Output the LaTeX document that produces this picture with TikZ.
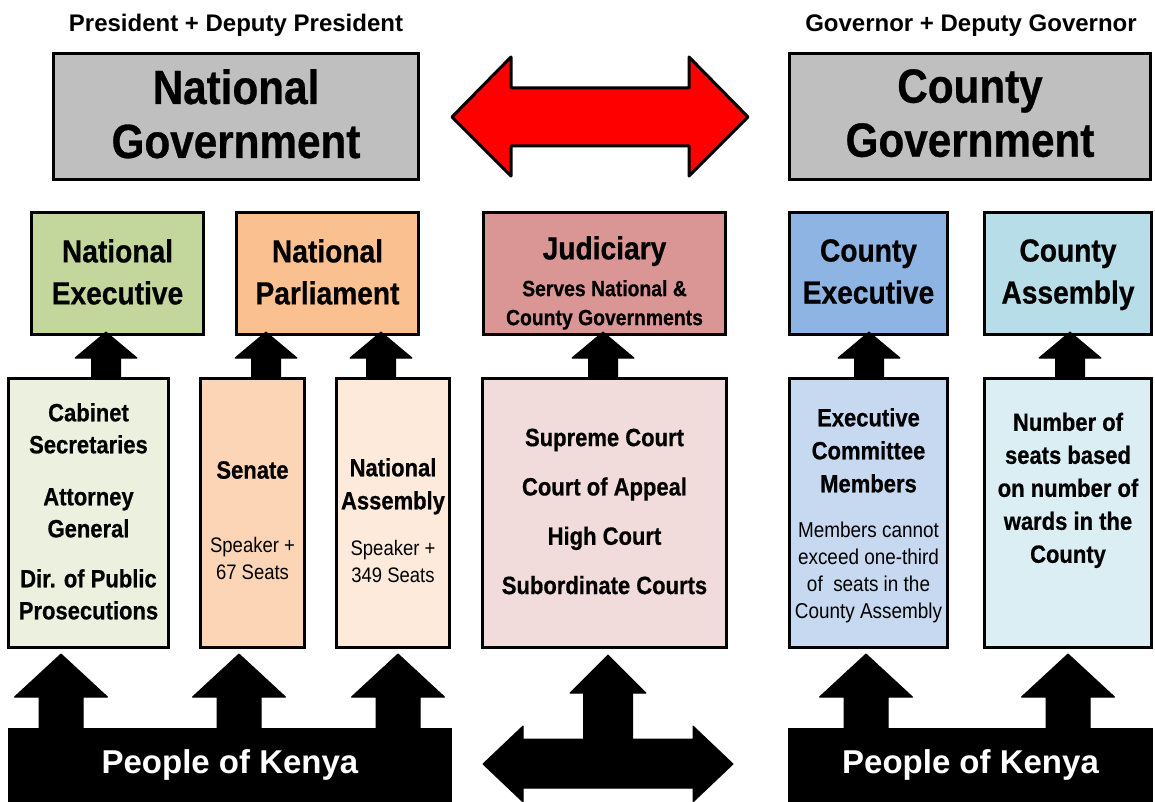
\documentclass[tikz,border=0pt]{standalone}
\usepackage{fontspec}
\setmainfont{Liberation Sans}[FakeStretch=0.88, BoldFeatures={FakeBold=0.6}]
\newfontfamily\widefont{Liberation Sans}
\definecolor{cgray}{HTML}{BFBFBF}
\definecolor{cnatexec}{HTML}{C3D69B}
\definecolor{cparl}{HTML}{FAC090}
\definecolor{cjud}{HTML}{D99694}
\definecolor{ccexec}{HTML}{8EB4E3}
\definecolor{ccass}{HTML}{B7DEE8}
\definecolor{ccab}{HTML}{EBF1DE}
\definecolor{csen}{HTML}{FBD5B5}
\definecolor{cnass}{HTML}{FDEADA}
\definecolor{ccourt}{HTML}{F2DCDB}
\definecolor{cecm}{HTML}{C6D9F1}
\definecolor{cseat}{HTML}{DBEEF3}
\newcommand\fs[2]{\fontsize{#1}{#2}\selectfont}
\newcommand\blkup[6]{\filldraw[blockarrow] (#1,#2) -- ({#1+#5},#3) -- ({#1+#6},#3) -- ({#1+#6},#4) -- ({#1-#6},#4) -- ({#1-#6},#3) -- ({#1-#5},#3) -- cycle;}
\begin{document}
\begin{tikzpicture}[x=1pt,y=-1pt,
  box/.style={draw=black, line width=3pt, inner sep=0pt},
  txt/.style={align=center, inner sep=0pt, anchor=north, text=black},
  blockarrow/.style={fill=black, draw=black, line width=1pt, line join=round},
  redarrow/.style={fill=red, draw=black, line width=3pt, line join=round},
  people/.style={fill=black, inner sep=0pt, text=white, font={\widefont\bfseries\fs{33}{40}}}]
\useasboundingbox (0,0) rectangle (1155,802);
% top labels
\node[txt, anchor=base, font={\widefont\bfseries\fs{24}{28}}] (preslbl) at (236,32) {President + Deputy President};
\node[txt, anchor=base, font={\widefont\bfseries\fs{24}{28}}] (govlbl) at (971,32) {Governor + Deputy Governor};
% government boxes
\node[box, fill=cgray, minimum width=365pt, minimum height=126pt] (natgov) at (236,116.5) {};
\node[box, fill=cgray, minimum width=361pt, minimum height=126pt] (cgov) at (970,116.5) {};
\node[txt, font={\bfseries\fs{48}{54}}] (natgov-t) at (236,69) {National\\Government};
\node[txt, font={\bfseries\fs{48}{54}}] (cgov-t) at (970,69) {County\\Government};
% red double arrow
\filldraw[redarrow] (452,117) -- (511,57) -- (511,88) -- (689,88) -- (689,57) -- (748,117) -- (689,176) -- (689,146) -- (511,146) -- (511,176) -- cycle;
% second row
\node[box, fill=cnatexec, minimum width=172pt, minimum height=122pt] (natexec) at (117.5,273.5) {};
\node[box, fill=cparl, minimum width=182pt, minimum height=122pt] (parl) at (327.5,273.5) {};
\node[box, fill=cjud, minimum width=242pt, minimum height=122pt] (jud) at (604.5,273.5) {};
\node[box, fill=ccexec, minimum width=158pt, minimum height=122pt] (cexec) at (868.5,273.5) {};
\node[box, fill=ccass, minimum width=167pt, minimum height=122pt] (cass) at (1068,273.5) {};
\node[txt, font={\bfseries\fs{32}{42}}] (natexec-t) at (117.5,239) {National\\Executive};
\node[txt, font={\bfseries\fs{32}{42}}] (parl-t) at (327.5,239) {National\\Parliament};
\node[txt, font={\bfseries\fs{32}{40}}] (jud-t) at (604.5,236) {Judiciary};
\node[txt, font={\bfseries\fs{22}{29}}] (jud-s) at (604.5,280) {Serves National \&\\County Governments};
\node[txt, font={\bfseries\fs{32}{42}}] (cexec-t) at (868.5,239) {County\\Executive};
\node[txt, font={\bfseries\fs{32}{42}}] (cass-t) at (1068,239) {County\\Assembly};
% third row
\node[box, fill=ccab, minimum width=160pt, minimum height=269pt] (cab) at (88.5,513) {};
\node[box, fill=csen, minimum width=104pt, minimum height=269pt] (sen) at (252.5,513) {};
\node[box, fill=cnass, minimum width=113pt, minimum height=269pt] (nass) at (393,513) {};
\node[box, fill=ccourt, minimum width=244pt, minimum height=269pt] (court) at (604.5,513) {};
\node[box, fill=cecm, minimum width=158pt, minimum height=269pt] (ecm) at (868.5,513) {};
\node[box, fill=cseat, minimum width=167pt, minimum height=269pt] (seat) at (1068,513) {};
\node[txt, font={\bfseries\fs{25}{32}}] (cab-t) at (88.5,403) {Cabinet\\Secretaries\\[20pt]Attorney\\General\\[18pt]Dir. of Public\\Prosecutions};
\node[txt, font={\bfseries\fs{25}{32}}] (sen-t) at (252.5,461) {Senate};
\node[txt, font={\fs{21}{27}}] (sen-s) at (252.5,537) {Speaker +\\67 Seats};
\node[txt, font={\bfseries\fs{25}{33}}] (nass-t) at (393,458) {National\\Assembly};
\node[txt, font={\fs{21}{27}}] (nass-s) at (393,540) {Speaker +\\349 Seats};
\node[txt, font={\bfseries\fs{25}{49.3}}] (court-t) at (604.5,428.5) {Supreme Court\\Court of Appeal\\High Court\\Subordinate Courts};
\node[txt, font={\bfseries\fs{25}{33}}] (ecm-t) at (868.5,408) {Executive\\Committee\\Members};
\node[txt, font={\fs{21.5}{27}}] (ecm-s) at (868.5,522) {Members cannot\\exceed one-third\\of\ \ seats in the\\County Assembly};
\node[txt, font={\bfseries\fs{25}{33}}] (seat-t) at (1068,412.5) {Number of\\seats based\\on number of\\wards in the\\County};
% small up arrows (row 3 -> row 2)
\blkup{106}{332}{358}{378}{31}{14.5}
\blkup{266}{332}{358}{378}{31}{14.5}
\blkup{381}{332}{358}{378}{31}{14.5}
\blkup{603}{332}{358}{378}{31}{14.5}
\blkup{869}{332}{358}{378}{31}{14.5}
\blkup{1070}{332}{358}{378}{31}{14.5}
% people blocks
\node[people, minimum width=444pt, minimum height=74pt] (peopleL) at (230,765) {People of Kenya};
\node[people, minimum width=365pt, minimum height=74pt] (peopleR) at (970.5,765) {People of Kenya};
% bottom up arrows
\blkup{61}{654}{697}{730}{46.5}{22}
\blkup{239}{654}{697}{730}{46.5}{22}
\blkup{398}{654}{697}{730}{46.5}{22}
\blkup{866}{654}{697}{730}{46.5}{22}
\blkup{1068}{654}{697}{730}{46.5}{22}
% middle T arrow
\filldraw[blockarrow] (608,655) -- (646,693) -- (632.5,693) -- (632.5,739) -- (693,739) -- (693,726) -- (733,764) -- (693,802) -- (693,788) -- (523,788) -- (523,802) -- (483,764) -- (523,726) -- (523,739) -- (583.5,739) -- (583.5,693) -- (570,693) -- cycle;
\end{tikzpicture}
\end{document}
